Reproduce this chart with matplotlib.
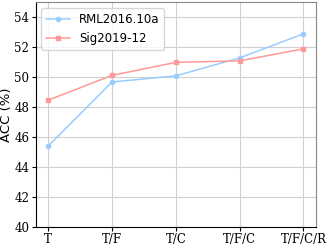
import matplotlib
matplotlib.use('Agg')
import matplotlib.pyplot as plt

categories = ['T', 'T/F', 'T/C', 'T/F/C', 'T/F/C/R']
rml = [45.42, 49.69, 50.1, 51.3, 52.9]
sig = [48.48, 50.13, 51.0, 51.1, 51.9]
yticks = [40, 42, 44, 46, 48, 50, 52, 54]

fig, ax = plt.subplots(figsize=(3.29, 2.45), dpi=100)
x = range(len(categories))
ax.plot(x, rml, '-o', color='#99ccff', markersize=3, linewidth=1.1, label='RML2016.10a')
ax.plot(x, sig, '-s', color='#ff9999', markersize=3, linewidth=1.1, label='Sig2019-12')

ax.set_xlim(-0.2, 4.2)
ax.set_ylim(40, 55)
ax.set_xticks(list(x))
ax.set_xticklabels(categories, family='DejaVu Serif', fontsize=8.5)
ax.set_yticks(yticks)
ax.set_yticklabels([str(v) for v in yticks], family='DejaVu Serif', fontsize=8.5)
ax.tick_params(length=3, pad=1.5)
ax.set_ylabel('ACC (%)', fontsize=9.5, labelpad=1)
ax.grid(True, color='#d0d0d0', linewidth=0.8)
ax.set_axisbelow(True)
for s in ['top', 'right']:
    ax.spines[s].set_color('#888888')
ax.legend(loc='upper left', fontsize=8.5, handlelength=2.0)

plt.subplots_adjust(left=0.108, right=0.961, bottom=0.073, top=0.99)
plt.savefig('out.png')
